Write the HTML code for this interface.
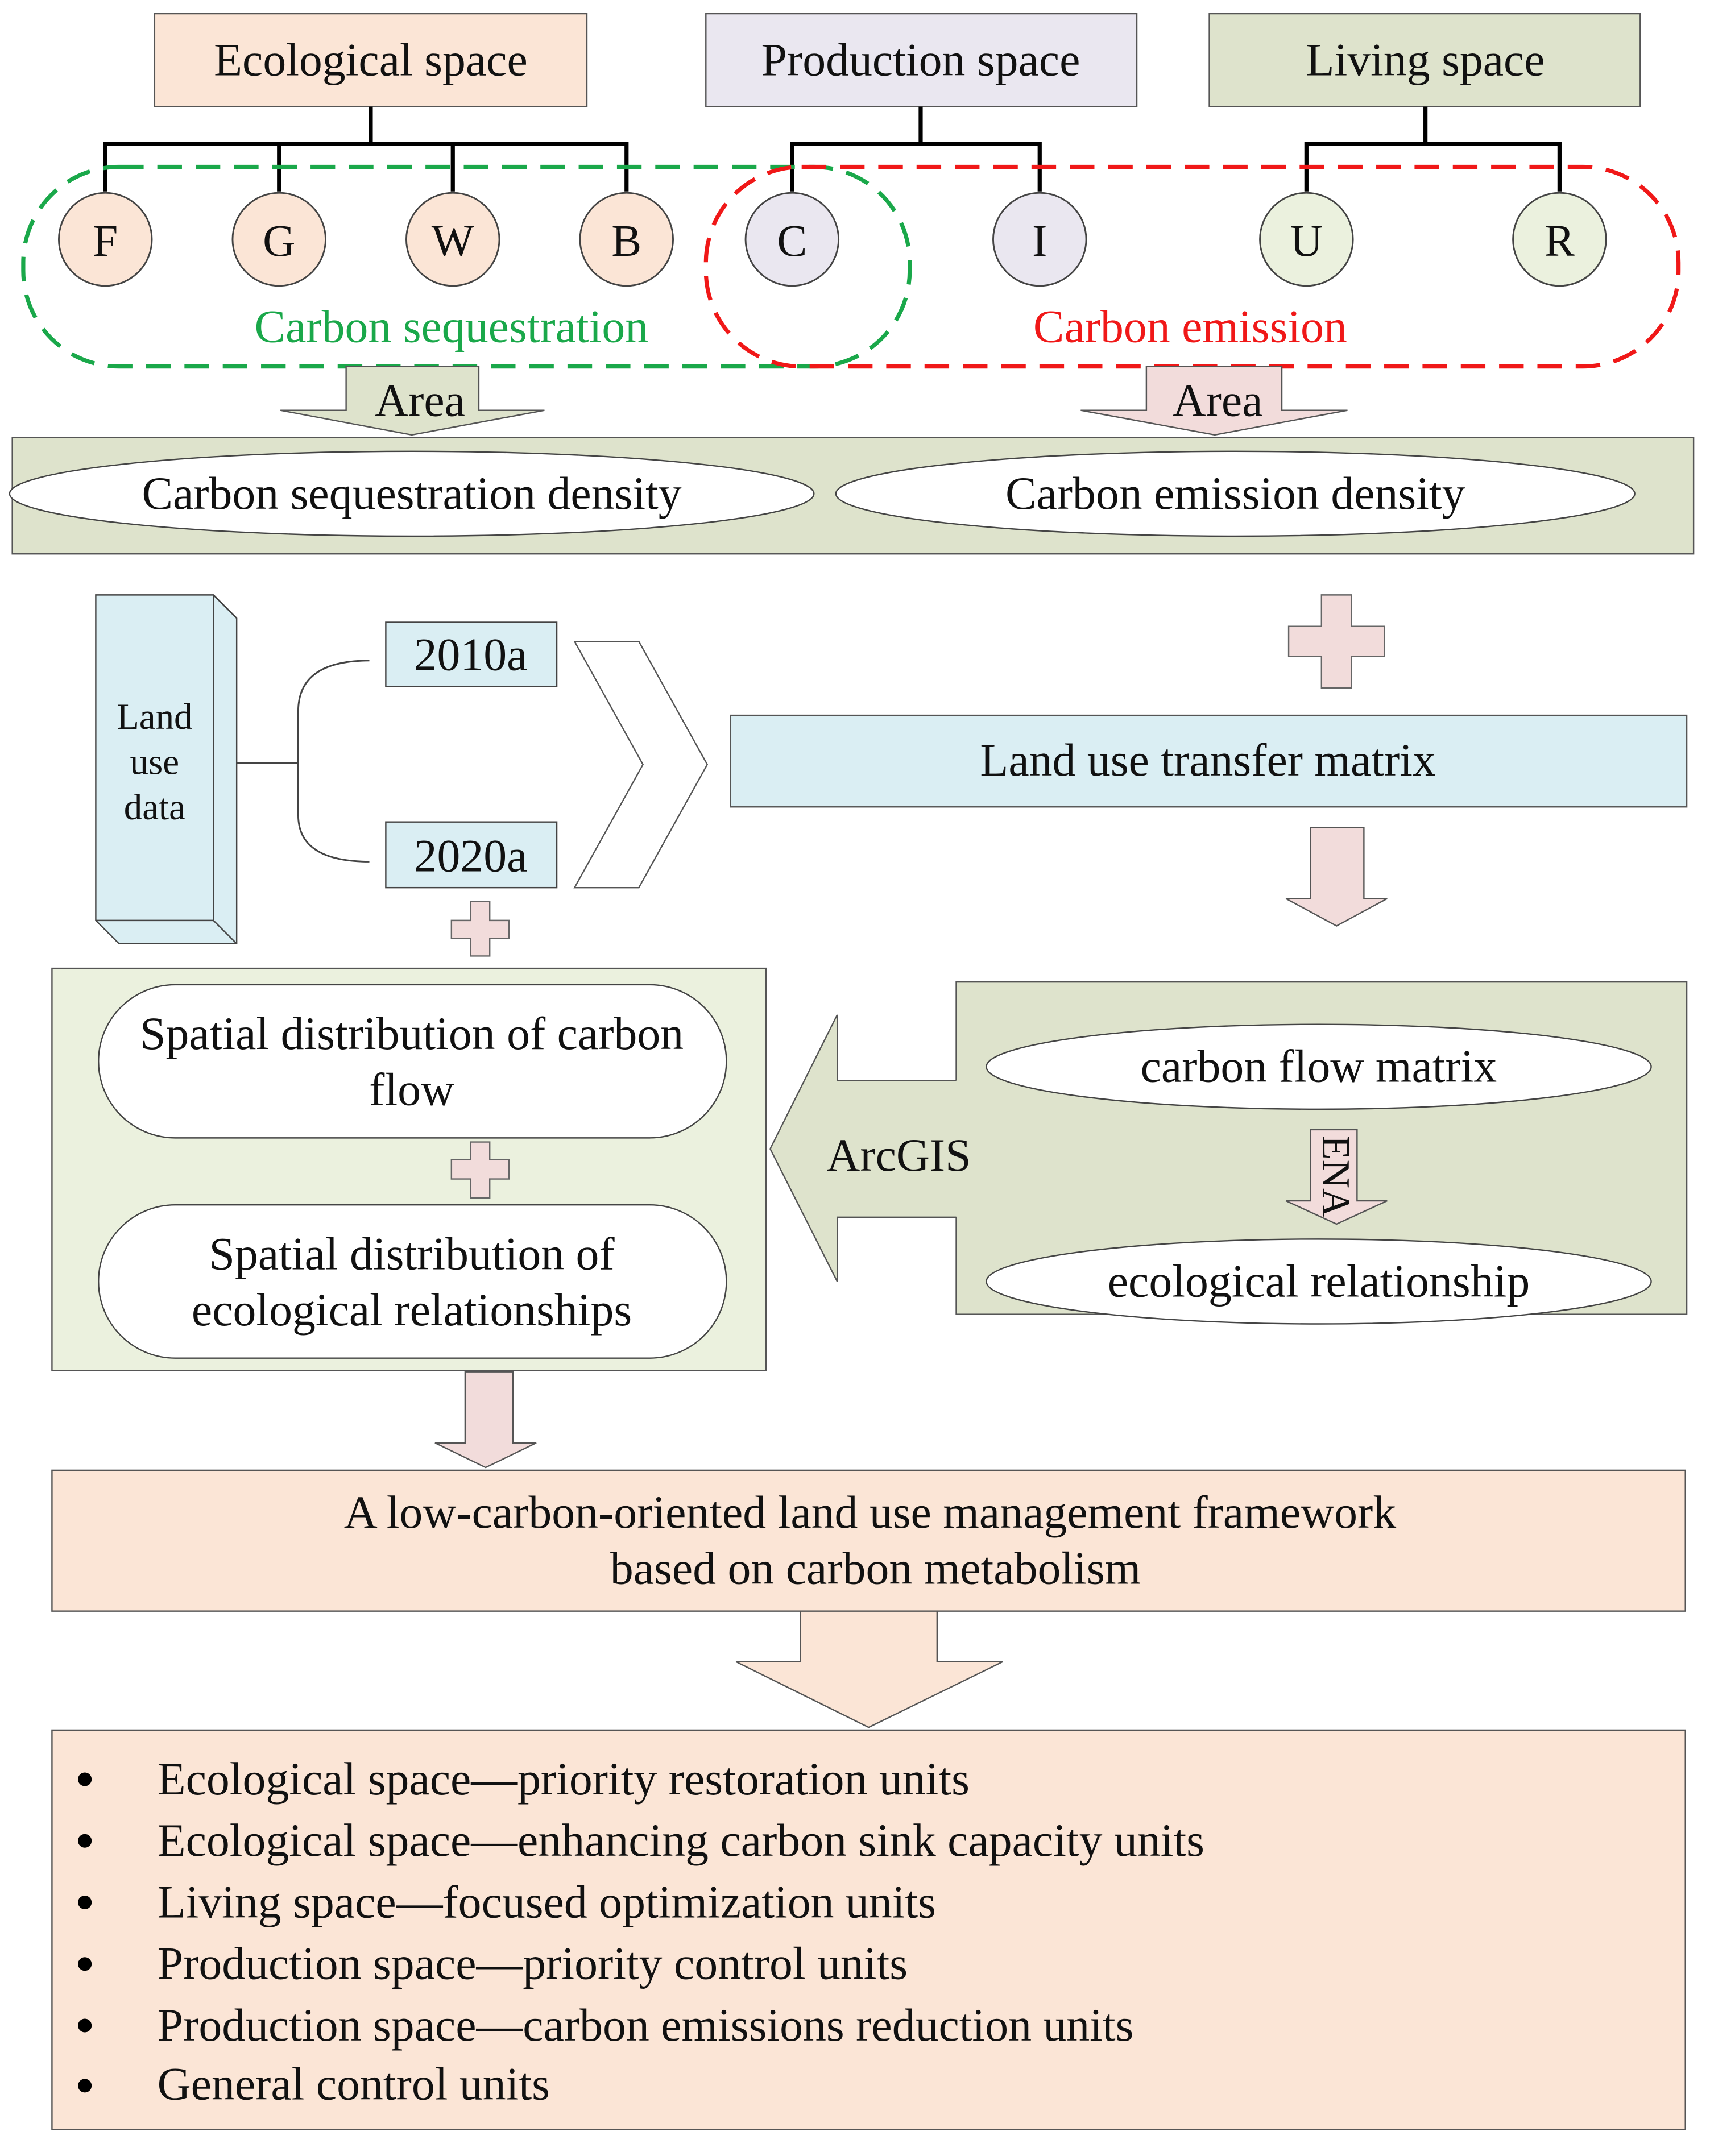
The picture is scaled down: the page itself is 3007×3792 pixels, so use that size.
<!DOCTYPE html>
<html><head><meta charset="utf-8"><style>
html,body{margin:0;padding:0;background:#fff;}
svg{display:block;}
text{font-family:"Liberation Serif",serif;fill:#111;}
</style></head><body>
<svg width="3007" height="3792" viewBox="0 0 1250 1576.4" preserveAspectRatio="none" xmlns="http://www.w3.org/2000/svg">
<g stroke="#555" stroke-width="1">
<rect x="113" y="10" width="316" height="68" fill="#FBE5D6"/>
<rect x="516" y="10" width="315" height="68" fill="#EAE7F0"/>
<rect x="884" y="10" width="315" height="68" fill="#DEE3CC"/>
</g>
<g font-size="34" text-anchor="middle">
<text x="271" y="55">Ecological space</text>
<text x="673" y="55">Production space</text>
<text x="1042" y="55">Living space</text>
</g>
<g stroke="#000" stroke-width="3" fill="none">
<path d="M271 78V105M77 140V105H458V140M204 105V140M331 105V140"/>
<path d="M673 78V105M579 140V105H760V140"/>
<path d="M1042 78V105M955 140V105H1140V140"/>
</g>
<g stroke="#444" stroke-width="1.2">
<circle cx="77" cy="175" r="34" fill="#FBE5D6"/>
<circle cx="204" cy="175" r="34" fill="#FBE5D6"/>
<circle cx="331" cy="175" r="34" fill="#FBE5D6"/>
<circle cx="458" cy="175" r="34" fill="#FBE5D6"/>
<circle cx="579" cy="175" r="34" fill="#EAE7F0"/>
<circle cx="760" cy="175" r="34" fill="#EAE7F0"/>
<circle cx="955" cy="175" r="34" fill="#EBF1DE"/>
<circle cx="1140" cy="175" r="34" fill="#EBF1DE"/>
</g>
<g font-size="33" text-anchor="middle">
<text x="77" y="187">F</text><text x="204" y="187">G</text><text x="331" y="187">W</text><text x="458" y="187">B</text>
<text x="579" y="187">C</text><text x="760" y="187">I</text><text x="955" y="187">U</text><text x="1140" y="187">R</text>
</g>
<rect x="17" y="122" width="648" height="146" rx="70" fill="none" stroke="#1AA84A" stroke-width="3" stroke-dasharray="18,10"/>
<rect x="516" y="122" width="711" height="146" rx="70" fill="none" stroke="#F01818" stroke-width="3" stroke-dasharray="18,10"/>
<text x="330" y="250" font-size="34" text-anchor="middle" style="fill:#1AA84A">Carbon sequestration</text>
<text x="870" y="250" font-size="34" text-anchor="middle" style="fill:#F01818">Carbon emission</text>
<polygon points="253,268 350,268 350,300 398,300 301,318 205,300 253,300" fill="#DEE3CC" stroke="#555"/>
<polygon points="838,268 937,268 937,300 985,300 888,318 790,300 838,300" fill="#F2DCDB" stroke="#555"/>
<text x="307" y="304" font-size="34" text-anchor="middle">Area</text>
<text x="890" y="304" font-size="34" text-anchor="middle">Area</text>
<rect x="9" y="320" width="1229" height="85" fill="#DEE3CC" stroke="#555"/>
<ellipse cx="301" cy="361" rx="294" ry="31" fill="#fff" stroke="#444"/>
<ellipse cx="903" cy="361" rx="292" ry="31" fill="#fff" stroke="#444"/>
<text x="301" y="372" font-size="34" text-anchor="middle">Carbon sequestration density</text>
<text x="903" y="372" font-size="34" text-anchor="middle">Carbon emission density</text>
<polygon points="966,435 988,435 988,458 1012,458 1012,480 988,480 988,503 966,503 966,480 942,480 942,458 966,458" fill="#F2DCDB" stroke="#666"/>
<polygon points="70,435 156,435 173,452 173,690 87,690 70,673" fill="#DAEEF3" stroke="#444"/>
<path d="M156,435 L173,452 M156,435 V673 L173,690 M156,673 H70" stroke="#444" fill="none"/>
<g font-size="27" text-anchor="middle"><text x="113" y="533">Land</text><text x="113" y="566">use</text><text x="113" y="599">data</text></g>
<path d="M173 558H218 M270 483 Q218 483 218 520 V596 Q218 630 270 630" stroke="#444" fill="none" stroke-width="1.2"/>
<rect x="282" y="455" width="125" height="47" fill="#DAEEF3" stroke="#444"/>
<rect x="282" y="601" width="125" height="48" fill="#DAEEF3" stroke="#444"/>
<text x="344" y="490" font-size="34" text-anchor="middle">2010a</text>
<text x="344" y="637" font-size="34" text-anchor="middle">2020a</text>
<polygon points="420,469 467,469 517,559 467,649 420,649 470,559" fill="#fff" stroke="#555"/>
<rect x="534" y="523" width="699" height="67" fill="#DAEEF3" stroke="#555"/>
<text x="883" y="567" font-size="34" text-anchor="middle">Land use transfer matrix</text>
<polygon points="958,605 997,605 997,657 1014,657 977,677 940,657 958,657" fill="#F2DCDB" stroke="#555"/>
<polygon points="344,659 358,659 358,673 372,673 372,686 358,686 358,699 344,699 344,686 330,686 330,673 344,673" fill="#F2DCDB" stroke="#666"/>
<rect x="38" y="708" width="522" height="294" fill="#EBF1DE" stroke="#555"/>
<rect x="72" y="720" width="459" height="112" rx="56" fill="#fff" stroke="#444"/>
<rect x="72" y="881" width="459" height="112" rx="56" fill="#fff" stroke="#444"/>
<g font-size="34" text-anchor="middle">
<text x="301" y="767">Spatial distribution of carbon</text>
<text x="301" y="808">flow</text>
<text x="301" y="928">Spatial distribution of</text>
<text x="301" y="969">ecological relationships</text>
</g>
<polygon points="344,835 358,835 358,848 372,848 372,862 358,862 358,876 344,876 344,862 330,862 330,848 344,848" fill="#F2DCDB" stroke="#666"/>
<rect x="699" y="718" width="534" height="243" fill="#DEE3CC" stroke="#555"/>
<polygon points="701,790 612,790 612,742 563,840 612,937 612,890 701,890" fill="#DEE3CC"/>
<path d="M699 790H612V742L563 840L612 937V890H699" fill="none" stroke="#555"/>
<text x="657" y="856" font-size="34" text-anchor="middle">ArcGIS</text>
<ellipse cx="964" cy="780" rx="243" ry="31" fill="#fff" stroke="#444"/>
<text x="964" y="791" font-size="34" text-anchor="middle">carbon flow matrix</text>
<polygon points="958,826 992,826 992,878 1014,878 977,895 940,878 958,878" fill="#F2DCDB" stroke="#555"/>
<text x="0" y="0" font-size="29" text-anchor="middle" transform="translate(967 860) rotate(90)">ENA</text>
<ellipse cx="964" cy="937" rx="243" ry="31" fill="#fff" stroke="#444"/>
<text x="964" y="948" font-size="34" text-anchor="middle">ecological relationship</text>
<polygon points="340,1003 375,1003 375,1055 392,1055 355,1073 318,1055 340,1055" fill="#F2DCDB" stroke="#555"/>
<rect x="38" y="1075" width="1194" height="103" fill="#FBE5D6" stroke="#555"/>
<text x="636" y="1117" font-size="34" text-anchor="middle">A low-carbon-oriented land use management framework</text>
<text x="640" y="1158" font-size="34" text-anchor="middle">based on carbon metabolism</text>
<polygon points="585,1178 685,1178 685,1215 733,1215 635,1263 538,1215 585,1215" fill="#FBE5D6" stroke="#555"/>
<rect x="38" y="1265" width="1194" height="292" fill="#FBE5D6" stroke="#555"/>
<g fill="#000"><circle cx="62" cy="1301" r="5"/><circle cx="62" cy="1346" r="5"/><circle cx="62" cy="1391" r="5"/><circle cx="62" cy="1436" r="5"/><circle cx="62" cy="1481" r="5"/><circle cx="62" cy="1525" r="5"/></g>
<g font-size="34">
<text x="115" y="1312">Ecological space—priority restoration units</text>
<text x="115" y="1357">Ecological space—enhancing carbon sink capacity units</text>
<text x="115" y="1402">Living space—focused optimization units</text>
<text x="115" y="1447">Production space—priority control units</text>
<text x="115" y="1492">Production space—carbon emissions reduction units</text>
<text x="115" y="1535">General control units</text>
</g>
</svg>
</body></html>
